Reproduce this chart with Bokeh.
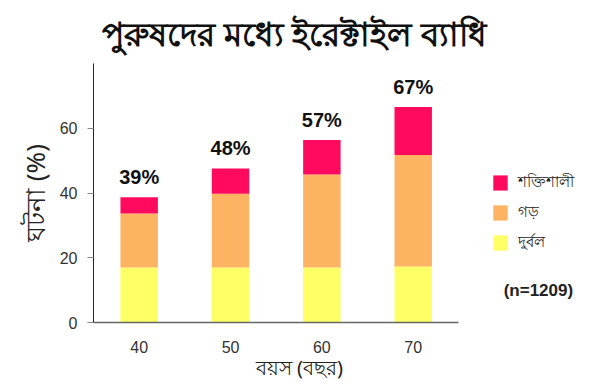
from bokeh.plotting import figure
from bokeh.models import ColumnDataSource, Range1d, Label, Legend, LegendItem
from bokeh.core.properties import value
from bokeh.embed import file_html
from bokeh.resources import INLINE

# ---- data ----
ages = [40, 50, 60, 70]
weak = [17.0, 17.0, 17.0, 17.3]
moderate = [16.7, 22.8, 28.7, 34.4]
strong = [5.0, 7.8, 10.7, 14.9]
pct_labels = ["39%", "48%", "57%", "67%"]
series_names = ["দুর্বল", "গড়", "শক্তিশালী"]
colors = ["#FFFF66", "#FDB462", "#FF0A5E"]
title_text = "পুরুষদের মধ্যে ইরেক্টাইল ব্যাধি"
x_title = "বয়স (বছর)"
y_title = "ঘটনা (%)"
n_text = "(n=1209)"

totals = [w + m + s for w, m, s in zip(weak, moderate, strong)]
src = ColumnDataSource(dict(age=ages, weak=weak, moderate=moderate, strong=strong,
                            total=totals, label=pct_labels))

BN = "Noto Sans"
LAT = "Liberation Sans"

p = figure(x_range=Range1d(35, 90.5), y_range=Range1d(0, 80),
           width=600, height=382, output_backend="svg", toolbar_location=None,
           min_border_left=93, min_border_right=0, min_border_top=63, min_border_bottom=56)

rs = p.vbar_stack(["weak", "moderate", "strong"], x="age", width=4.1, color=colors,
                  line_color=None, source=src)

p.text(x="age", y="total", text="label", source=src, text_align="center",
       text_baseline="alphabetic", y_offset=-20, text_font=value(LAT),
       text_font_style="bold", text_font_size="20px", text_color="#111111")

p.xgrid.grid_line_color = None
p.ygrid.grid_line_color = None
p.outline_line_color = None

p.xaxis.bounds = (35, 75)
p.xaxis.ticker = ages
p.xaxis.axis_line_color = "#666666"
p.xaxis.axis_line_width = 1.5
p.xaxis.major_tick_line_color = None
p.xaxis.minor_tick_line_color = None
p.xaxis.major_label_standoff = 12
p.xaxis.major_label_text_font = LAT
p.xaxis.major_label_text_font_size = "16px"
p.xaxis.major_label_text_color = "#333333"

p.yaxis.ticker = [0, 20, 40, 60]
p.yaxis.axis_line_color = "#222222"
p.yaxis.major_tick_line_color = "#888888"
p.yaxis.major_tick_out = 6
p.yaxis.major_tick_in = 0
p.yaxis.minor_tick_line_color = None
p.yaxis.major_label_standoff = 10
p.yaxis.major_label_text_font = LAT
p.yaxis.major_label_text_font_size = "16px"
p.yaxis.major_label_text_color = "#333333"
p.yaxis.axis_label = y_title
p.yaxis.axis_label_text_font = BN
p.yaxis.axis_label_text_font_size = "26px"
p.yaxis.axis_label_text_font_style = "normal"
p.yaxis.axis_label_text_color = "#222222"
p.yaxis.axis_label_standoff = 4

legend = Legend(items=[LegendItem(label=series_names[2], renderers=[rs[2]]),
                       LegendItem(label=series_names[1], renderers=[rs[1]]),
                       LegendItem(label=series_names[0], renderers=[rs[0]])],
                location=(398, 67), glyph_width=18, glyph_height=19, spacing=5,
                padding=0, margin=0, label_standoff=9, label_text_font=BN,
                label_text_font_size="15px", label_text_color="#222222",
                border_line_alpha=0, background_fill_alpha=0)
p.add_layout(legend, "center")

p.add_layout(Label(x=79.9, y=10.0, text=n_text, text_align="left",
                   text_baseline="middle", text_font=LAT, text_font_style="bold",
                   text_font_size="17px", text_color="#222222"))

p.add_layout(Label(x=57.0, y=89.3, text=title_text, text_align="center",
                   text_baseline="middle", text_font=BN, text_font_style="bold",
                   text_font_size="33px", text_color="#111111"), "above")
p.add_layout(Label(x=57.55, y=-14.0, text=x_title, text_align="center",
                   text_baseline="middle", text_font=BN, text_font_size="20px",
                   text_color="#222222"), "below")

open("out.html", "w").write(file_html(p, INLINE))
